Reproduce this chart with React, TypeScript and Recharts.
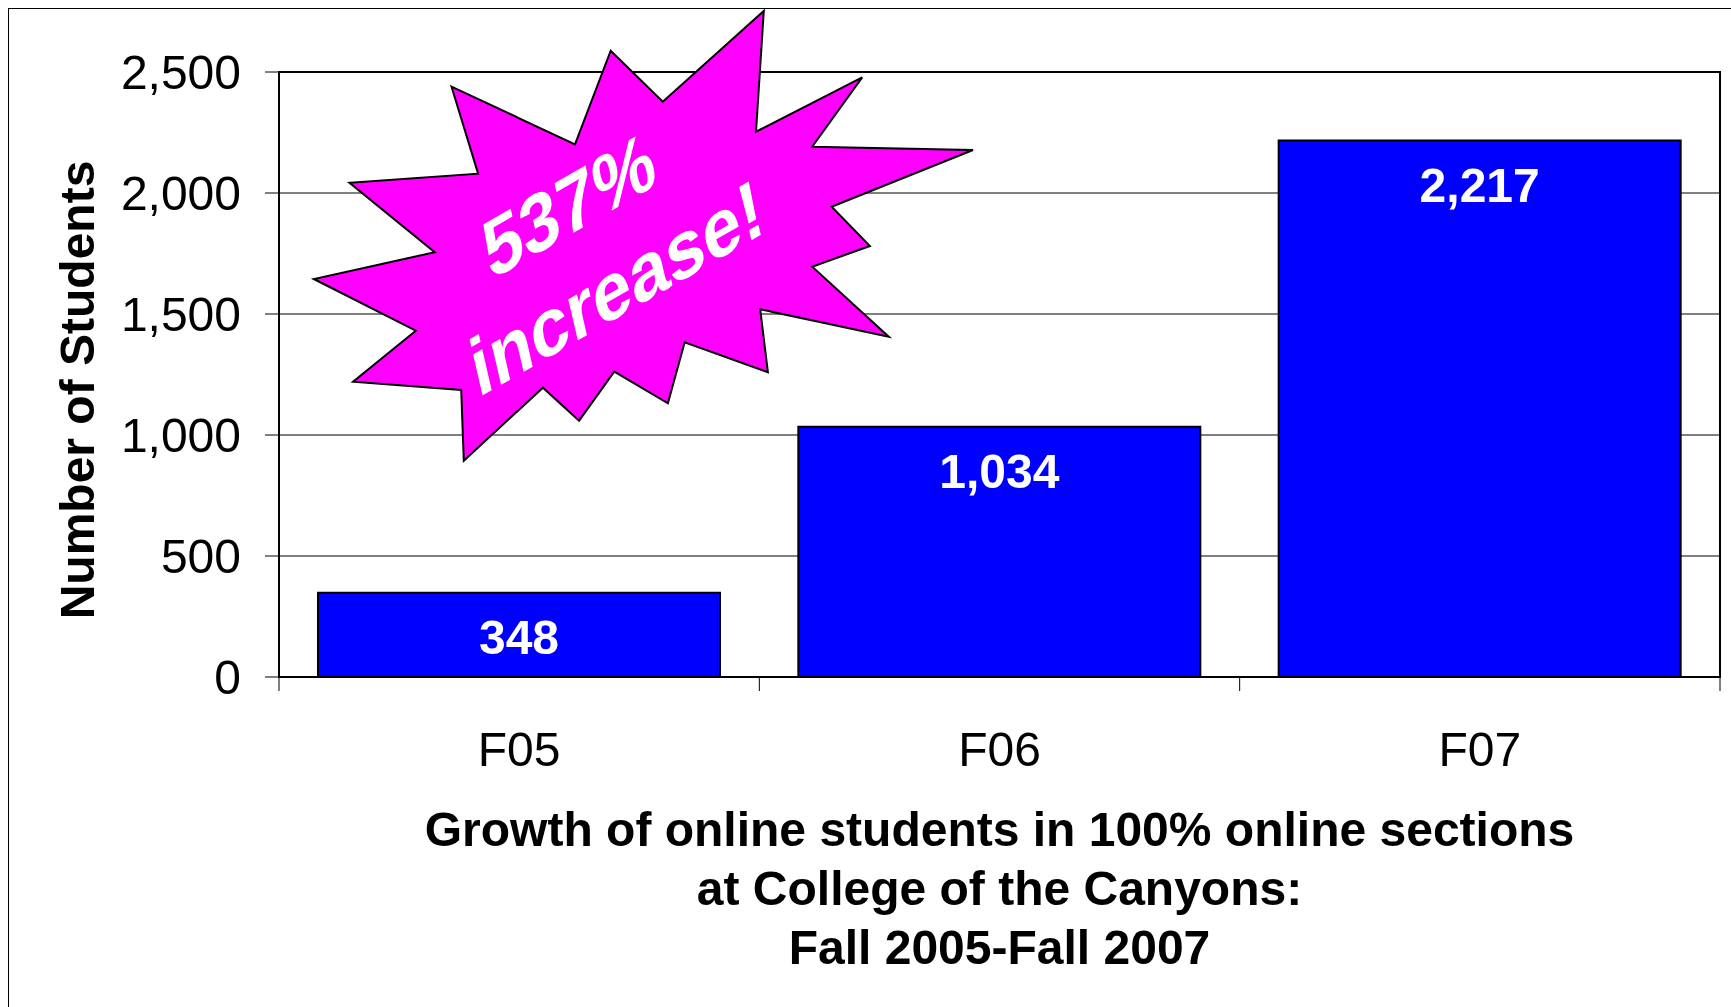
import { BarChart, Bar, XAxis, YAxis, CartesianGrid, LabelList } from 'recharts';

const terms = ['F05', 'F06', 'F07'];
const students = [348, 1034, 2217];
const yTicks = [0, 500, 1000, 1500, 2000, 2500];
const yTitle = 'Number of Students';
const titleLines = [
  'Growth of online students in 100% online sections',
  'at College of the Canyons:',
  'Fall 2005-Fall 2007',
];
const burstLines = ['537%', 'increase!'];

const data = terms.map((term, i) => ({ term, students: students[i] }));

const FONT = '"Liberation Sans", Arial, Helvetica, sans-serif';
const W = 1715;
const H = 991;
const M = { top: 64, right: 3, bottom: 242, left: 0 };
const Y_W = 271;
const X_H = 80;
const PLOT_W = W - M.left - M.right - Y_W;
const PLOT_H = H - M.top - M.bottom - X_H;
const BAND = PLOT_W / terms.length;

// starburst outline, in chart pixels
const burst = [
  [443.5, 78.7], [567, 136.3], [602.7, 42.7], [654.8, 93.7], [755.8, 3],
  [748, 123.7], [854.2, 69.3], [804.2, 138.7], [965, 142], [823.6, 198.7],
  [861.9, 238], [804.2, 258.7], [880.8, 328.7], [752.2, 301.3], [759.9, 364.3],
  [676.7, 334.3], [659.9, 395.3], [606.3, 363.7], [571.1, 412.7], [534.9, 379.7],
  [455.8, 452.7], [453.2, 382], [345.1, 373.7], [407.8, 322.7], [305.8, 271],
  [426.7, 244.3], [341.5, 174.7], [470.1, 165.7],
];

const fmt = (v: number) => Number(v).toLocaleString('en-US');

function TermTick(props: any) {
  const { x, y, payload, index } = props;
  const last = index === terms.length - 1;
  return (
    <g>
      <line x1={x - BAND / 2} y1={y} x2={x - BAND / 2} y2={y + 14} stroke="#000" />
      {last && <line x1={x + BAND / 2} y1={y} x2={x + BAND / 2} y2={y + 14} stroke="#000" />}
      <text x={x} y={y + 72} dy="0.355em" textAnchor="middle" fontSize={48} fontFamily={FONT} fill="#000">
        {payload.value}
      </text>
    </g>
  );
}

export default function App() {
  const plotX = M.left + Y_W;
  const plotY = M.top;
  return (
    <div style={{ position: 'relative', width: W, height: H }}>
      <div
        style={{
          position: 'fixed', left: 8, top: 8, right: 0, bottom: 0,
          borderTop: '1px solid #000', borderLeft: '1px solid #000',
        }}
      />
      <BarChart width={W} height={H} data={data} margin={M} style={{ position: 'absolute', left: 0, top: 0 }}>
        <CartesianGrid vertical={false} stroke="#000" strokeWidth={1} />
        <XAxis
          dataKey="term"
          height={X_H}
          axisLine={false}
          tickLine={false}
          tickSize={0}
          tickMargin={0}
          interval={0}
          tick={<TermTick />}
        />
        <YAxis
          width={Y_W}
          domain={[0, 2500]}
          ticks={yTicks}
          interval={0}
          axisLine={false}
          tickSize={14}
          tickMargin={24}
          tickLine={{ stroke: '#000' }}
          tickFormatter={fmt}
          tick={{ fontSize: 48, fill: '#000', fontFamily: FONT }}
        />
        <Bar dataKey="students" fill="#0000FF" stroke="#000" strokeWidth={2} barSize={402} isAnimationActive={false}>
          <LabelList
            dataKey="students"
            position="insideTop"
            offset={27}
            formatter={fmt}
            fill="#fff"
            fontSize={48}
            fontWeight="bold"
            fontFamily={FONT}
          />
        </Bar>
      </BarChart>
      <svg width={W} height={H} style={{ position: 'absolute', left: 0, top: 0, pointerEvents: 'none' }}>
        <rect x={plotX} y={plotY} width={PLOT_W} height={PLOT_H} fill="none" stroke="#000" strokeWidth={2} />
        <polygon points={burst.map((p) => p.join(',')).join(' ')} fill="#FF00FF" stroke="#000" strokeWidth={2} />
        <g fontFamily={FONT} fontWeight="bold" fontSize={76} fill="#fff" textAnchor="middle">
          <text transform="translate(566.9 223.9) rotate(-30) skewX(-17)">{burstLines[0]}</text>
          <text transform="translate(614.6 306.5) rotate(-30) skewX(-17)">{burstLines[1]}</text>
        </g>
        <text
          transform="translate(86 382) rotate(-90)"
          textAnchor="middle"
          fontFamily={FONT}
          fontWeight="bold"
          fontSize={48}
          fill="#000"
        >
          {yTitle}
        </text>
        <g fontFamily={FONT} fontWeight="bold" fontSize={48} fill="#000" textAnchor="middle">
          {titleLines.map((line, i) => (
            <text key={i} x={plotX + PLOT_W / 2} y={838 + i * 59}>
              {line}
            </text>
          ))}
        </g>
      </svg>
    </div>
  );
}
